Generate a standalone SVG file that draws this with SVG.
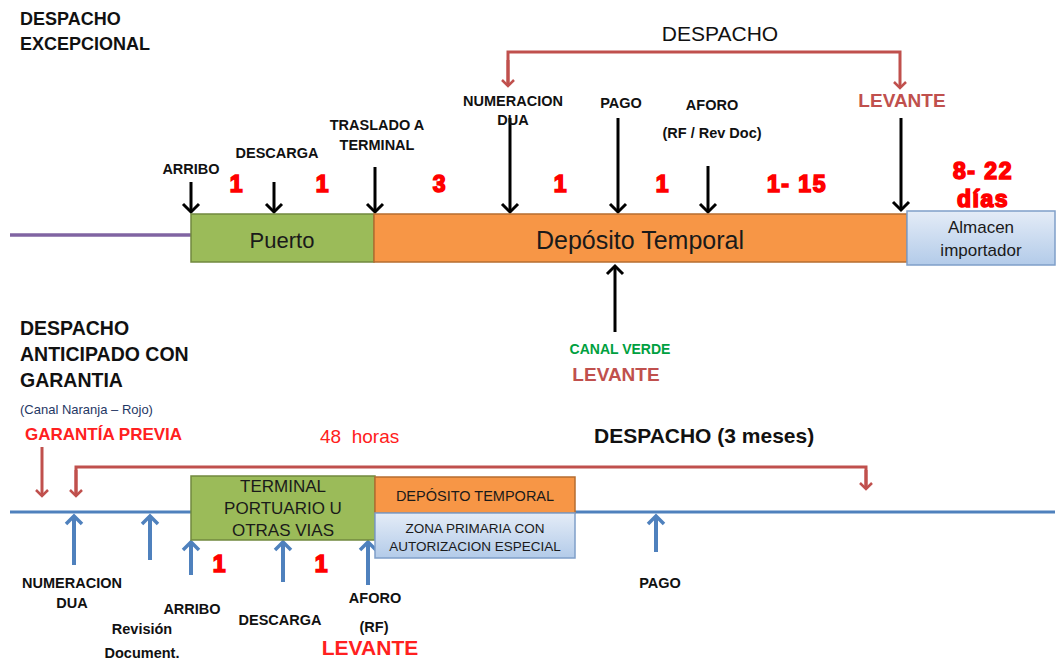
<svg xmlns="http://www.w3.org/2000/svg" width="1057" height="662" viewBox="0 0 1057 662">
<style>
.t{font-family:"Liberation Sans",Arial,sans-serif;font-weight:bold;fill:#111;}
.c{text-anchor:middle;}
.lbl{font-size:14.5px;}
.num{font-family:"Liberation Sans",Arial,sans-serif;font-weight:900;fill:#ff0000;font-size:23px;text-anchor:middle;stroke:#ff0000;stroke-width:1.6;letter-spacing:1.5px;}
.box{font-family:"Liberation Sans",Arial,sans-serif;fill:#1a1a1a;text-anchor:middle;}
.blk{stroke:#000;stroke-width:3;fill:none;}
.blu{stroke:#4f81bd;stroke-width:4;fill:none;}
.red{stroke:#c0504d;stroke-width:3;fill:none;}
</style>
<defs>
<marker id="ahk" markerUnits="userSpaceOnUse" markerWidth="20" markerHeight="20" refX="10" refY="10" orient="auto" viewBox="0 0 20 20"><polyline points="2,2 10,10 2,18" fill="none" stroke="#000" stroke-width="3"/></marker>
<marker id="ahb" markerUnits="userSpaceOnUse" markerWidth="20" markerHeight="20" refX="10" refY="10" orient="auto" viewBox="0 0 20 20"><polyline points="2,2 10,10 2,18" fill="none" stroke="#4f81bd" stroke-width="3.5"/></marker>
<marker id="ahr" markerUnits="userSpaceOnUse" markerWidth="16" markerHeight="16" refX="8" refY="8" orient="auto" viewBox="0 0 16 16"><polyline points="2,2 8,8 2,14" fill="none" stroke="#c0504d" stroke-width="2.5"/></marker>
<linearGradient id="lb" x1="0" y1="0" x2="0" y2="1"><stop offset="0" stop-color="#e4ecf7"/><stop offset="1" stop-color="#b3cbe9"/></linearGradient>
</defs>

<!-- titles -->
<text class="t" x="20" y="25" font-size="18">DESPACHO</text>
<text class="t" x="20" y="50" font-size="18">EXCEPCIONAL</text>
<text class="t" x="20" y="335" font-size="19.5">DESPACHO</text>
<text class="t" x="20" y="361" font-size="19.5">ANTICIPADO CON</text>
<text class="t" x="20" y="387" font-size="19.5">GARANTIA</text>
<text x="20" y="414" font-family="Liberation Sans,Arial,sans-serif" font-size="13" fill="#1f3864">(Canal Naranja – Rojo)</text>
<text class="t" x="25" y="440" font-size="17" style="fill:#ff2020">GARANTÍA PREVIA</text>
<text x="320" y="443" xml:space="preserve" font-family="Liberation Sans,Arial,sans-serif" font-size="19" fill="#ff2020">48  horas</text>
<text class="t" x="594" y="443" font-size="21">DESPACHO (3 meses)</text>
<text x="720" y="41" font-family="Liberation Sans,Arial,sans-serif" font-size="21" fill="#111" text-anchor="middle">DESPACHO</text>

<!-- connectors -->
<g id="connectors">
<line x1="10" y1="235" x2="191" y2="235" stroke="#8064a2" stroke-width="3.5"/>
<line x1="10" y1="512" x2="1055" y2="512" stroke="#4f81bd" stroke-width="3"/>
<line class="blk" x1="191" y1="182" x2="191" y2="212" marker-end="url(#ahk)"/>
<line class="blk" x1="274" y1="182" x2="274" y2="212" marker-end="url(#ahk)"/>
<line class="blk" x1="375" y1="167" x2="375" y2="212" marker-end="url(#ahk)"/>
<line class="blk" x1="510" y1="118" x2="510" y2="212" marker-end="url(#ahk)"/>
<line class="blk" x1="618" y1="118" x2="618" y2="212" marker-end="url(#ahk)"/>
<line class="blk" x1="708" y1="166" x2="708" y2="212" marker-end="url(#ahk)"/>
<line class="blk" x1="901" y1="118" x2="901" y2="210" marker-end="url(#ahk)"/>
<line class="blk" x1="615" y1="332" x2="615" y2="266" marker-end="url(#ahk)"/>
<polyline class="red" points="508,86 508,52 900,52 900,88" marker-end="url(#ahr)"/>
<line class="red" x1="508" y1="60" x2="508" y2="86" marker-end="url(#ahr)"/>
<line class="red" x1="42" y1="447" x2="42" y2="496" marker-end="url(#ahr)"/>
<polyline class="red" points="76,496 76,467 866,467 866,489"/>
<line class="red" x1="866" y1="470" x2="866" y2="489" marker-end="url(#ahr)"/>
<line class="red" x1="76" y1="470" x2="76" y2="496" marker-end="url(#ahr)"/>
<line class="blu" x1="74" y1="565" x2="74" y2="516" marker-end="url(#ahb)"/>
<line class="blu" x1="150" y1="560" x2="150" y2="516" marker-end="url(#ahb)"/>
<line class="blu" x1="191" y1="575" x2="191" y2="542" marker-end="url(#ahb)"/>
<line class="blu" x1="283" y1="582" x2="283" y2="542" marker-end="url(#ahb)"/>
<line class="blu" x1="368" y1="585" x2="368" y2="542" marker-end="url(#ahb)"/>
<line class="blu" x1="656" y1="552" x2="656" y2="516" marker-end="url(#ahb)"/>
</g>

<!-- top nodes -->
<g id="puerto">
<rect x="191" y="214" width="183" height="48" fill="#9bbb59" stroke="#71893f" stroke-width="1.5"/>
<text class="box" x="282" y="248" font-size="22">Puerto</text>
</g>
<g id="deposito">
<rect x="374" y="214" width="533" height="48" fill="#f79646" stroke="#b66d31" stroke-width="1.5"/>
<text class="box" x="640" y="249" font-size="25">Depósito Temporal</text>
</g>
<g id="almacen">
<rect x="907" y="211" width="148" height="54" fill="url(#lb)" stroke="#7f9fc9" stroke-width="1.5"/>
<text class="box" x="981" y="233" font-size="17">Almacen</text>
<text class="box" x="981" y="256" font-size="17">importador</text>
</g>

<!-- top labels -->
<g id="top-labels">
<text class="t c lbl" x="191" y="174">ARRIBO</text>
<text class="t c lbl" x="277" y="158">DESCARGA</text>
<text class="t c lbl" x="377" y="130">TRASLADO A</text>
<text class="t c lbl" x="377" y="150">TERMINAL</text>
<text class="t c lbl" x="513" y="106">NUMERACION</text>
<text class="t c lbl" x="513" y="125">DUA</text>
<text class="t c lbl" x="621" y="108">PAGO</text>
<text class="t c lbl" x="712" y="110">AFORO</text>
<text class="t c lbl" x="712" y="138">(RF / Rev Doc)</text>
<text class="t c" x="902" y="107" font-size="19" style="fill:#c0504d">LEVANTE</text>
<text class="t c" x="620" y="354" font-size="14" style="fill:#00a040">CANAL VERDE</text>
<text class="t c" x="616" y="381" font-size="19" style="fill:#c0504d">LEVANTE</text>
</g>
<g id="top-numbers">
<text class="num" x="237" y="192">1</text>
<text class="num" x="323" y="192">1</text>
<text class="num" x="440" y="192">3</text>
<text class="num" x="561" y="192">1</text>
<text class="num" x="663" y="192">1</text>
<text class="num" x="797" y="192">1- 15</text>
<text class="num" x="983" y="179">8- 22</text>
<text class="num" x="983" y="207">días</text>
</g>

<!-- bottom nodes -->
<g id="terminal">
<rect x="191" y="476" width="184" height="64" fill="#9bbb59" stroke="#71893f" stroke-width="1.5"/>
<text class="box" x="283" y="492" font-size="17">TERMINAL</text>
<text class="box" x="283" y="514" font-size="17">PORTUARIO U</text>
<text class="box" x="283" y="536" font-size="17">OTRAS VIAS</text>
</g>
<g id="deposito-temporal">
<rect x="375" y="477" width="200" height="36" fill="#f79646" stroke="#b66d31" stroke-width="1.5"/>
<text class="box" x="475" y="501" font-size="14.5">DEPÓSITO TEMPORAL</text>
</g>
<g id="zona-primaria">
<rect x="375" y="513" width="200" height="45" fill="url(#lb)" stroke="#7f9fc9" stroke-width="1.5"/>
<text class="box" x="475" y="533" font-size="13.5">ZONA PRIMARIA CON</text>
<text class="box" x="475" y="551" font-size="13.5">AUTORIZACION ESPECIAL</text>
</g>

<g id="bottom-labels">
<text class="t c lbl" x="72" y="588">NUMERACION</text>
<text class="t c lbl" x="72" y="608">DUA</text>
<text class="t c lbl" x="192" y="614">ARRIBO</text>
<text class="t c lbl" x="142" y="634">Revisión</text>
<text class="t c lbl" x="142" y="658">Document.</text>
<text class="t c lbl" x="280" y="625">DESCARGA</text>
<text class="t c lbl" x="375" y="603">AFORO</text>
<text class="t c lbl" x="374" y="632">(RF)</text>
<text class="t c" x="370" y="655" font-size="21" style="fill:#ff2020">LEVANTE</text>
<text class="t c lbl" x="660" y="588">PAGO</text>
<text class="num" x="220" y="572">1</text>
<text class="num" x="322" y="572">1</text>
</g>
</svg>
